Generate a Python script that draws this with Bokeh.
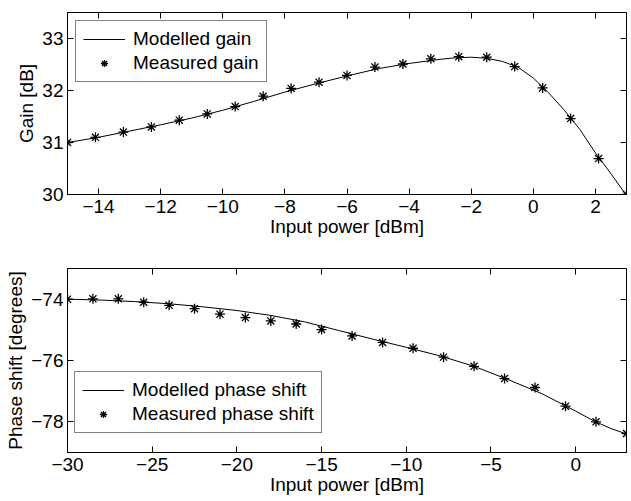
from bokeh.plotting import figure
from bokeh.layouts import column
from bokeh.models import (LinearAxis, FixedTicker, Legend, LegendItem, Range1d,
                          CustomLabelingPolicy)
from bokeh.embed import file_html
from bokeh.resources import INLINE

# ---- data: gain vs input power ----
gain_meas_x = [-15.0, -14.1, -13.2, -12.3, -11.4, -10.5, -9.6, -8.7, -7.8, -6.9, -6.0,
               -5.1, -4.2, -3.3, -2.4, -1.5, -0.6, 0.3, 1.2, 2.1, 3.0]
gain_meas_y = [31.00, 31.10, 31.20, 31.30, 31.43, 31.55, 31.69, 31.89, 32.04, 32.16, 32.29,
               32.45, 32.51, 32.61, 32.65, 32.64, 32.46, 32.05, 31.46, 30.69, 30.00]
gain_model_x = [-15, -14, -13, -12, -11, -10, -9, -8, -7, -6, -5, -4, -3, -2.5, -2,
                -1.5, -1, -0.5, 0, 0.5, 1, 1.5, 2, 2.5, 3]
gain_model_y = [31.00, 31.10, 31.22, 31.34, 31.47, 31.62, 31.79, 31.97, 32.13, 32.28, 32.42,
                32.52, 32.60, 32.63, 32.64, 32.62, 32.56, 32.45, 32.24, 31.95, 31.62, 31.25,
                30.80, 30.40, 29.98]

# ---- data: phase shift vs input power ----
phase_meas_x = [-30.0, -28.5, -27.0, -25.5, -24.0, -22.5, -21.0, -19.5, -18.0, -16.5, -15.0,
                -13.2, -11.4, -9.6, -7.8, -6.0, -4.2, -2.4, -0.6, 1.2, 3.0]
phase_meas_y = [-74.00, -73.99, -73.99, -74.10, -74.20, -74.31, -74.49, -74.60, -74.71, -74.81,
                -74.99, -75.20, -75.41, -75.60, -75.89, -76.19, -76.59, -76.88, -77.49, -78.00,
                -78.38]
phase_model_x = [-30, -28, -26, -24, -22, -20, -18, -16, -15, -14, -12, -10, -8, -6, -4, -2,
                 0, 1, 2, 3]
phase_model_y = [-74.00, -74.03, -74.08, -74.15, -74.25, -74.37, -74.53, -74.74, -74.88, -75.02,
                 -75.30, -75.57, -75.85, -76.19, -76.62, -77.08, -77.65, -77.95, -78.20, -78.40]

# ---- ticks ----
top_xticks = [-14, -12, -10, -8, -6, -4, -2, 0, 2]
top_xlabels = ["\u221214", "\u221212", "\u221210", "\u22128", "\u22126", "\u22124", "\u22122", "0", "2"]
top_yticks = [30, 31, 32, 33]
top_ylabels = ["30", "31", "32", "33"]
bot_xticks = [-30, -25, -20, -15, -10, -5, 0]
bot_xlabels = ["\u221230", "\u221225", "\u221220", "\u221215", "\u221210", "\u22125", "0"]
bot_yticks = [-78, -76, -74]
bot_ylabels = ["\u221278", "\u221276", "\u221274"]

FONT = "Liberation Sans"
FS = "19px"

NO_LABELS = "const a = Array.from(indices); for (const i of a) indices.unset(i); return indices"


def style_axis(ax, ticks, labels, show_labels=True):
    ax.ticker = FixedTicker(ticks=ticks)
    ax.minor_tick_line_color = None
    ax.major_tick_in = 6
    ax.major_tick_out = 0
    ax.major_tick_line_color = "black"
    ax.axis_line_color = "black"
    ax.major_label_text_font = FONT
    ax.major_label_text_color = "black"
    ax.axis_label_text_font = FONT
    ax.axis_label_text_font_style = "normal"
    ax.axis_label_text_font_size = FS
    ax.axis_label_text_color = "black"
    if show_labels:
        ax.major_label_overrides = {t: l for t, l in zip(ticks, labels)}
        ax.major_label_text_font_size = FS
    else:
        ax.major_label_policy = CustomLabelingPolicy(code=NO_LABELS)
        ax.major_label_text_font_size = "0px"
        ax.major_label_standoff = 0


def make_fig(h, top, bottom, xr, yr, xt, xl, yt, yl, xlabel, ylabel):
    p = figure(width=631, height=h, x_range=Range1d(*xr), y_range=Range1d(*yr),
               output_backend="svg", toolbar_location=None,
               min_border_left=67, min_border_right=5, min_border_top=top,
               min_border_bottom=bottom, background_fill_color="white",
               border_fill_color="white")
    p.grid.visible = False
    p.outline_line_color = "black"
    p.outline_line_width = 1
    style_axis(p.xaxis[0], xt, xl)
    style_axis(p.yaxis[0], yt, yl)
    p.xaxis[0].axis_label = xlabel
    p.yaxis[0].axis_label = ylabel
    p.xaxis[0].major_label_standoff = 5
    p.xaxis[0].axis_label_standoff = 0
    p.yaxis[0].major_label_standoff = 4
    p.yaxis[0].axis_label_standoff = 2
    ra = LinearAxis()
    style_axis(ra, yt, yl, show_labels=False)
    p.add_layout(ra, "right")
    ta = LinearAxis()
    style_axis(ta, xt, xl, show_labels=False)
    p.add_layout(ta, "above")
    return p


def make_legend(r_line, r_mark, lab_line, lab_mark, loc):
    return Legend(items=[LegendItem(label=lab_line, renderers=[r_line]),
                         LegendItem(label=lab_mark, renderers=[r_mark])],
                  location=loc, label_text_font=FONT, label_text_font_size=FS,
                  label_text_color="black",
                  label_height=18, glyph_height=18, glyph_width=42, spacing=2, padding=7,
                  label_standoff=8, border_line_color="black", border_line_width=1,
                  background_fill_alpha=1, margin=0)


# ---- top: gain ----
p1 = make_fig(250, 12, 56, (-15, 3), (30, 33.5), top_xticks, top_xlabels, top_yticks,
              top_ylabels, "Input power [dBm]", "Gain [dB]")
l1 = p1.line(gain_model_x, gain_model_y, line_color="black", line_width=1)
m1 = p1.scatter(gain_meas_x, gain_meas_y, marker="asterisk", size=10, line_color="black",
                line_width=1.3)
p1.add_layout(make_legend(l1, m1, "Modelled gain", "Measured gain", (8, 112)), "center")

# ---- bottom: phase shift ----
p2 = make_fig(251, 18, 49, (-30, 3), (-79, -73), bot_xticks, bot_xlabels, bot_yticks,
              bot_ylabels, "Input power [dBm]", "Phase shift [degrees]")
l2 = p2.line(phase_model_x, phase_model_y, line_color="black", line_width=1)
m2 = p2.scatter(phase_meas_x, phase_meas_y, marker="asterisk", size=10, line_color="black",
                line_width=1.3)
p2.add_layout(make_legend(l2, m2, "Modelled phase shift", "Measured phase shift", (7, 19)),
              "center")

layout = column(p1, p2, spacing=0)
open("out.html", "w").write(file_html(layout, INLINE))
